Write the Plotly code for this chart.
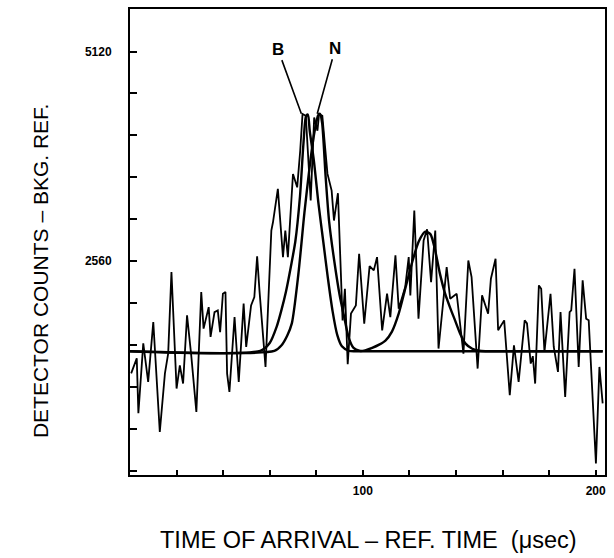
import plotly.graph_objects as go

# ---------------- data ----------------
# measured detector counts (noisy trace)
t_meas = [0.5, 2.9, 3.6, 5.7, 7.8, 10.0, 12.8, 15.0, 16.4, 17.8, 20.0, 21.4, 22.8, 24.5,
          26.3, 28.5, 30.6, 31.6, 33.8, 34.6, 36.3, 37.7, 38.7, 39.9, 41.0, 41.7, 42.7,
          44.9, 46.7, 48.8, 49.9, 52.0, 53.4, 54.6, 55.6, 58.2, 60.7, 61.4, 63.5, 65.7,
          66.7, 67.8, 70.0, 71.8, 73.1, 74.1, 75.5, 77.6, 79.1, 80.5, 81.2, 82.6, 84.8,
          86.6, 87.6, 89.3, 91.3, 92.3, 93.5, 94.9, 97.0, 98.4, 100.6, 102.9, 104.7,
          106.1, 108.3, 110.4, 111.8, 114.0, 115.4, 118.2, 119.7, 120.4, 122.1, 123.9,
          126.1, 127.6, 129.3, 131.1, 132.5, 136.0, 137.5, 140.3, 143.2, 145.3, 146.7,
          149.3, 151.2, 153.8, 155.0, 157.0, 158.1, 160.7, 163.1, 164.9, 166.9, 169.5,
          170.5, 172.1, 173.0, 174.0, 175.6, 176.6, 178.0, 180.6, 182.0, 183.8, 184.9,
          186.9, 188.8, 189.5, 190.9, 192.7, 194.4, 195.9, 197.0, 200.1, 201.6, 203.0]
c_meas = [1190, 1373, 703, 1556, 1085, 1816, 475, 1190, 1434, 2426, 1004, 1288, 1065, 1898,
          1410, 719, 2182, 1736, 1999, 1634, 1938, 1959, 1694, 2162, 2182, 1187, 963,
          1877, 1085, 2041, 1512, 2020, 2121, 2620, 2203, 1268, 2934, 3035, 3443, 2609,
          2934, 2609, 3625, 3462, 3909, 4357, 4336, 3300, 4315, 4153, 4357, 4336, 3629,
          3422, 3056, 3390, 1837, 2223, 1300, 1919, 2020, 2650, 1797, 2500, 2447,
          2609, 1715, 2162, 1877, 2630, 1980, 2243, 2609, 2142, 3178, 1858,
          2812, 2950, 2304, 2934, 1492, 2487, 2101, 2162, 1431, 2568, 2365,
          1248, 2142, 1918, 2345, 2589, 1715, 1837, 923, 1532, 1085, 1837,
          1800, 1309, 1400, 1065, 2264, 2223, 1451, 2162, 1512, 1207, 1938,
          902, 1938, 1960, 2467, 1268, 2325, 1858, 1837, 90, 1268, 822]

# fitted curve "B"
t_fit_b = [0, 56, 60, 63, 65, 67, 69, 71, 73, 74.5, 75.6, 76.4, 77.2, 79, 81, 83, 85, 87,
           89, 91, 94, 97, 203]
c_fit_b = [1460, 1465, 1560, 1760, 1959, 2190, 2480, 2800, 3350, 4000, 4330, 4350, 4150,
           3780, 3250, 2800, 2350, 1950, 1660, 1520, 1465, 1460, 1460]

# fitted curve "N" (with the second, later peak)
t_fit_n = [0, 62, 65, 67.5, 69.5, 72.3, 74.9, 77.1, 79, 80.8, 81.6, 82.5, 84, 85.5, 87.7,
           90, 92, 94, 96, 98.5, 101, 104, 107, 109.7, 112.5, 115.4, 118, 121, 124, 126.8,
           129, 131, 133, 135.3, 137.5, 139.6, 142, 144, 147, 150, 153, 203]
c_fit_n = [1460, 1463, 1530, 1650, 1800, 2400, 3150, 3700, 4100, 4340, 4360, 4250, 3600,
           3050, 2568, 2150, 1877, 1620, 1500, 1465, 1470, 1500, 1540, 1590, 1700, 1919,
           2200, 2528, 2800, 2920, 2890, 2700, 2420, 2166, 1990, 1837, 1660, 1556, 1490,
           1465, 1460, 1460]

# axis ticks
x_tick_vals = [0, 20, 40, 60, 80, 100, 120, 140, 160, 180, 200]
x_tick_text = ["", "", "", "", "", "<b>100</b>", "", "", "", "", "<b>200</b>"]
y_tick_vals = [0, 512, 1024, 1536, 2048, 2560, 3072, 3584, 4096, 4608, 5120]
y_tick_text = ["", "", "", "", "", "<b>2560</b>", "", "", "", "", "<b>5120</b>"]

# curve labels and where their leader lines point
label_text = ["B", "N"]
label_x = [63.5, 88.2]
label_y = [5150, 5160]
pointer_x = [73.6, 80.4]
pointer_y = [4360, 4360]

x_title = "TIME OF ARRIVAL – REF. TIME  (μsec)"
y_title = "DETECTOR COUNTS – BKG. REF."

# ---------------- figure ----------------
FONT = "Liberation Sans, Arial, Helvetica, sans-serif"
fig = go.Figure()
fig.add_trace(go.Scatter(x=t_meas, y=c_meas, mode="lines",
                         line=dict(color="black", width=1.8), showlegend=False))
fig.add_trace(go.Scatter(x=t_fit_b, y=c_fit_b, mode="lines",
                         line=dict(color="black", width=2.4, shape="spline", smoothing=0.7),
                         showlegend=False))
fig.add_trace(go.Scatter(x=t_fit_n, y=c_fit_n, mode="lines",
                         line=dict(color="black", width=2.4, shape="spline", smoothing=0.7),
                         showlegend=False))

for txt, lx, ly, px, py in zip(label_text, label_x, label_y, pointer_x, pointer_y):
    fig.add_annotation(x=px, y=py, ax=lx, ay=ly, xref="x", yref="y", axref="x", ayref="y",
                       text="<b>%s</b>" % txt, showarrow=True, arrowhead=0,
                       arrowwidth=1.6, arrowcolor="black", standoff=0, startstandoff=0,
                       font=dict(family=FONT, size=17, color="black"))

fig.add_annotation(text=x_title, xref="paper", yref="paper", x=0.503, y=-0.14,
                   xanchor="center", yanchor="middle", showarrow=False,
                   font=dict(family=FONT, size=23.5, color="black"))
fig.add_annotation(text=y_title, xref="paper", yref="paper", x=-0.187, y=0.438,
                   xanchor="center", yanchor="middle", showarrow=False, textangle=-90,
                   font=dict(family=FONT, size=21, color="black"))

fig.update_xaxes(range=[0, 204], showline=True, mirror=True, linecolor="black", linewidth=2,
                 ticks="inside", ticklen=5, tickwidth=1.5, tickcolor="black",
                 tickvals=x_tick_vals, ticktext=x_tick_text, showgrid=False, zeroline=False,
                 tickfont=dict(family=FONT, size=12, color="black"), ticklabelstandoff=4)
fig.update_yaxes(range=[-52, 5640], showline=True, mirror=True, linecolor="black", linewidth=2,
                 ticks="inside", ticklen=7, tickwidth=1.5, tickcolor="black",
                 tickvals=y_tick_vals, ticktext=y_tick_text, showgrid=False, zeroline=False,
                 tickfont=dict(family=FONT, size=12, color="black"), ticklabelstandoff=14)

fig.update_layout(width=614, height=558, margin=dict(l=130, r=7, t=8, b=83),
                  plot_bgcolor="white", paper_bgcolor="white")

# remove the page's default body margin and any scrollbars so the figure fills the window
fig.write_html("out.html", config={"displayModeBar": False}, post_script=(
    "document.body.style.margin='0';"
    "document.body.style.overflow='hidden';"
    "document.documentElement.style.overflow='hidden';"))
